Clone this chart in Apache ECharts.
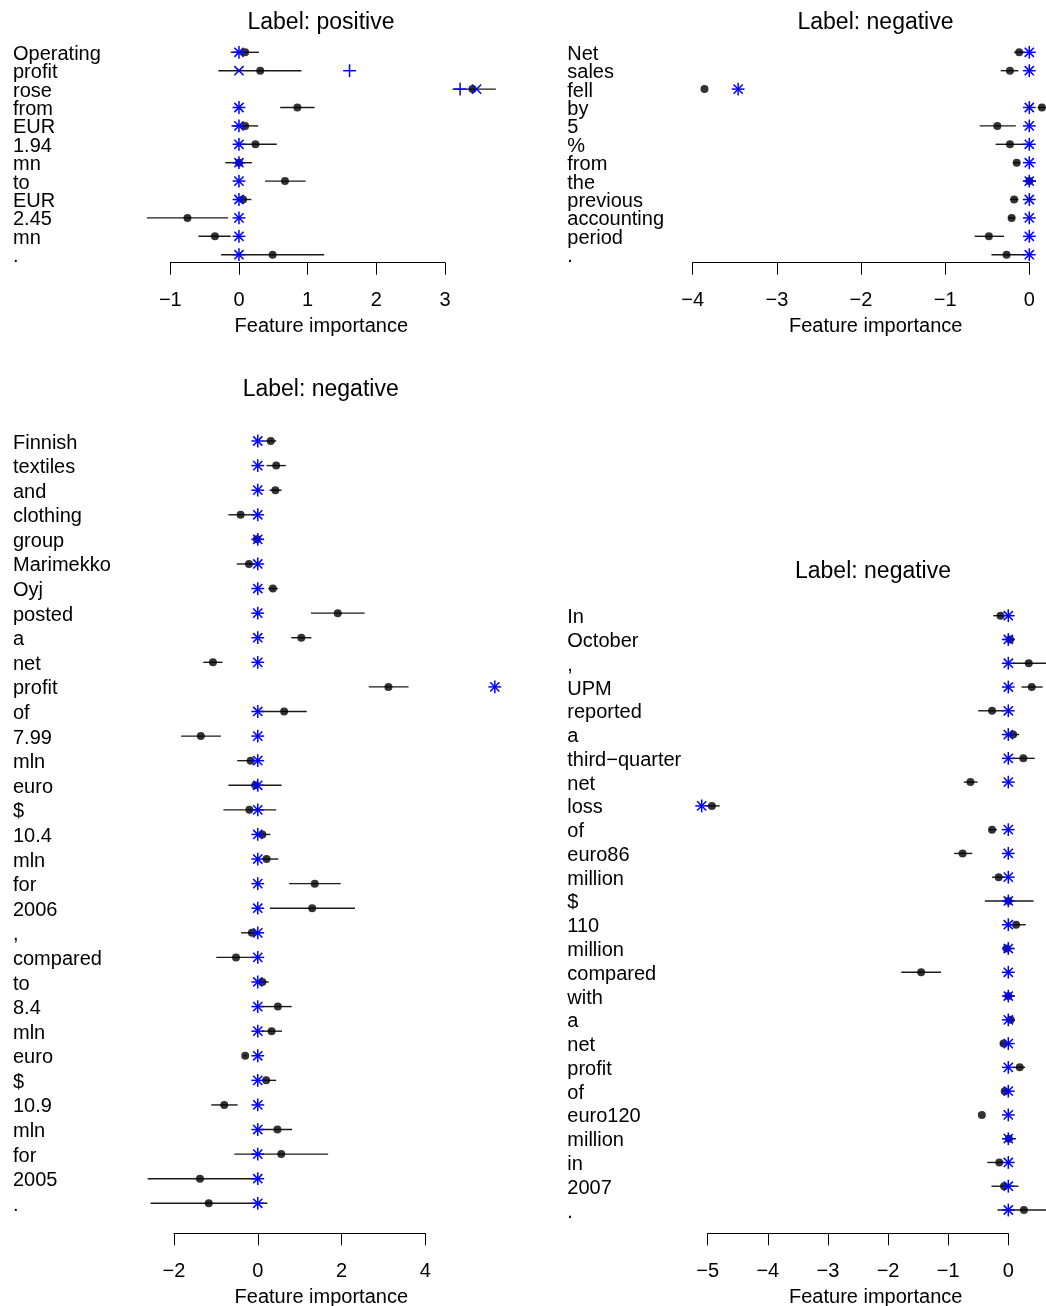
<!DOCTYPE html>
<html><head><meta charset="utf-8">
<script src="https://cdn.jsdelivr.net/npm/echarts@6/dist/echarts.min.js"></script>
<style>html,body{margin:0;padding:0;background:#fff}#c{width:1046px;height:1306px}</style>
</head><body><div id="c"></div>
<script>
// ---------- DATA ----------
const p1Words = ["Operating","profit","rose","from","EUR","1.94","mn","to","EUR","2.45","mn","."];
const p1Mean  = [0.09, 0.31, 3.40, 0.85, 0.09, 0.24, 0.00, 0.67, 0.06, -0.75, -0.35, 0.49];
const p1Lo    = [-0.12, -0.30, 3.11, 0.60, -0.11, -0.05, -0.20, 0.38, -0.06, -1.34, -0.59, -0.26];
const p1Hi    = [0.29, 0.91, 3.74, 1.10, 0.28, 0.55, 0.19, 0.97, 0.18, -0.16, -0.12, 1.24];
const p1Plus  = [0, 1.61, 3.22, 0, 0, 0, 0, 0, 0, 0, 0, 0];
const p1Cross = [0, 0, 3.46, 0, 0, 0, 0, 0, 0, 0, 0, 0];

const p2Words = ["Net","sales","fell","by","5","%","from","the","previous","accounting","period","."];
const p2Mean  = [-0.12, -0.23, -3.86, 0.15, -0.38, -0.23, -0.15, 0.00, -0.18, -0.21, -0.48, -0.27];
const p2Lo    = [-0.18, -0.34, -3.86, 0.10, -0.59, -0.40, -0.19, -0.07, -0.23, -0.25, -0.65, -0.45];
const p2Hi    = [-0.06, -0.13, -3.86, 0.20, -0.16, -0.03, -0.11, 0.08, -0.13, -0.17, -0.30, -0.05];
const p2Plus  = [0, 0, -3.46, 0, 0, 0, 0, 0, 0, 0, 0, 0];
const p2Cross = [0, 0, -3.46, 0, 0, 0, 0, 0, 0, 0, 0, 0];

const p3Words = ["Finnish","textiles","and","clothing","group","Marimekko","Oyj","posted","a","net","profit","of","7.99","mln","euro","$","10.4","mln","for","2006",",","compared","to","8.4","mln","euro","$","10.9","mln","for","2005","."];
const p3Mean  = [0.31, 0.44, 0.42, -0.41, -0.02, -0.21, 0.36, 1.91, 1.04, -1.07, 3.12, 0.63, -1.36, -0.17, -0.06, -0.20, 0.11, 0.21, 1.36, 1.30, -0.14, -0.52, 0.11, 0.48, 0.33, -0.30, 0.20, -0.80, 0.47, 0.56, -1.38, -1.17];
const p3Lo    = [0.14, 0.21, 0.28, -0.70, -0.14, -0.50, 0.25, 1.27, 0.80, -1.30, 2.65, 0.06, -1.83, -0.49, -0.70, -0.82, 0.02, 0.10, 0.75, 0.29, -0.40, -0.99, 0.02, 0.06, 0.10, -0.33, 0.10, -1.11, 0.06, -0.56, -2.63, -2.56];
const p3Hi    = [0.44, 0.67, 0.57, -0.06, 0.14, -0.06, 0.48, 2.55, 1.28, -0.84, 3.60, 1.17, -0.88, 0.02, 0.57, 0.44, 0.30, 0.49, 1.98, 2.32, 0.06, 0.02, 0.26, 0.81, 0.58, -0.27, 0.44, -0.48, 0.82, 1.68, -0.02, 0.23];
const p3Plus  = [0,0,0,0,0,0,0,0,0,0,5.66,0,0,0,0,0,0,0,0,0,0,0,0,0,0,0,0,0,0,0,0,0];
const p3Cross = [0,0,0,0,0,0,0,0,0,0,5.66,0,0,0,0,0,0,0,0,0,0,0,0,0,0,0,0,0,0,0,0,0];

const p4Words = ["In","October",",","UPM","reported","a","third\u2212quarter","net","loss","of","euro86","million","$","110","million","compared","with","a","net","profit","of","euro120","million","in","2007","."];
const p4Mean  = [-0.13, 0.03, 0.34, 0.39, -0.27, 0.08, 0.25, -0.63, -4.93, -0.27, -0.76, -0.16, 0.00, 0.13, -0.03, -1.45, 0.00, 0.04, -0.08, 0.19, -0.06, -0.44, 0.01, -0.15, -0.07, 0.26];
const p4Lo    = [-0.25, -0.08, 0.08, 0.22, -0.50, -0.06, 0.08, -0.74, -5.02, -0.32, -0.90, -0.27, -0.39, 0.00, -0.09, -1.78, -0.08, -0.03, -0.13, 0.08, -0.09, -0.44, -0.08, -0.35, -0.28, -0.18];
const p4Hi    = [-0.06, 0.11, 0.65, 0.57, -0.08, 0.18, 0.44, -0.51, -4.80, -0.19, -0.60, -0.06, 0.42, 0.29, 0.09, -1.12, 0.11, 0.11, 0.00, 0.28, 0.03, -0.44, 0.13, -0.08, 0.17, 0.65];
const p4Plus  = [0,0,0,0,0,0,0,0,-5.10,0,0,0,0,0,0,0,0,0,0,0,0,0,0,0,0,0];
const p4Cross = [0,0,0,0,0,0,0,0,-5.10,0,0,0,0,0,0,0,0,0,0,0,0,0,0,0,0,0];

const titles = ["Label: positive","Label: negative","Label: negative","Label: negative"];
const xName = "Feature importance";

// ---------- LAYOUT ----------
const FONT = "'Liberation Sans', Arial, Helvetica, sans-serif";
const panels = [
  {words:p1Words, mean:p1Mean, lo:p1Lo, hi:p1Hi, plus:p1Plus, cross:p1Cross,
   left:170.3, right:445, firstRow:52.3, lastRow:254.7, axisY:262.7, min:-1, max:3, interval:1,
   labelX:13, titleX:321, titleY:21, nameX:321.3, nameY:324},
  {words:p2Words, mean:p2Mean, lo:p2Lo, hi:p2Hi, plus:p2Plus, cross:p2Cross,
   left:692.7, right:1029.3, firstRow:52.3, lastRow:254.7, axisY:262.7, min:-4, max:0, interval:1,
   labelX:567.3, titleX:875.5, titleY:21, nameX:875.7, nameY:324},
  {words:p3Words, mean:p3Mean, lo:p3Lo, hi:p3Hi, plus:p3Plus, cross:p3Cross,
   left:174, right:425.3, firstRow:441, lastRow:1203.3, axisY:1233.3, min:-2, max:4, interval:2,
   labelX:13, titleX:320.7, titleY:387.3, nameX:321.3, nameY:1295},
  {words:p4Words, mean:p4Mean, lo:p4Lo, hi:p4Hi, plus:p4Plus, cross:p4Cross,
   left:707.7, right:1008.3, firstRow:615.7, lastRow:1210, axisY:1233.3, min:-5, max:0, interval:1,
   labelX:567.3, titleX:873, titleY:570, nameX:875.7, nameY:1295}
];

const grid = [], xAxis = [], yAxis = [], series = [], graphic = [];
const BLUE = '#0000ff';
const TEXT_SHIFT = 2;

panels.forEach((p, k) => {
  const n = p.words.length;
  const step = (p.lastRow - p.firstRow) / (n - 1);
  const top = p.firstRow - step / 2;
  const height = step * n;
  grid.push({left: p.left, top: top, width: p.right - p.left, height: height, containLabel: false});
  xAxis.push({
    type: 'value', gridIndex: k, min: p.min, max: p.max, interval: p.interval,
    position: 'bottom', offset: p.axisY - (top + height),
    axisLine: {show: true, onZero: false, lineStyle: {color: '#000', width: 1}},
    axisTick: {show: true, length: 12, lineStyle: {color: '#000', width: 1}},
    axisLabel: {fontSize: 20, color: '#000', margin: 28, fontFamily: FONT,
      formatter: v => String(v).replace('-', '\u2212')},
    splitLine: {show: false}
  });
  yAxis.push({
    type: 'category', gridIndex: k, inverse: true, data: p.words,
    axisLine: {show: false}, axisTick: {show: false}, splitLine: {show: false},
    axisLabel: {interval: 0, align: 'left', margin: p.left - p.labelX, fontSize: 20,
      color: '#000', fontFamily: FONT,
      formatter: v => '{w|' + v + '}',
      rich: {w: {fontSize: 20, color: '#000', fontFamily: FONT, padding: [2 * TEXT_SHIFT, 0, 0, 0]}}}
  });
  // error bars
  series.push({
    type: 'custom', xAxisIndex: k, yAxisIndex: k, clip: false, silent: true,
    encode: {x: [0, 2], y: 1},
    data: p.words.map((w, i) => [p.lo[i], i, p.hi[i]]),
    renderItem: (params, api) => {
      const a = api.coord([api.value(0), api.value(1)]);
      const b = api.coord([api.value(2), api.value(1)]);
      return {type: 'line', shape: {x1: a[0], y1: a[1], x2: b[0], y2: b[1]},
        style: {stroke: '#1a1a1a', lineWidth: 1.4}};
    }, z: 2
  });
  // mean dots
  series.push({
    type: 'scatter', xAxisIndex: k, yAxisIndex: k, clip: false, silent: true,
    symbol: 'circle', symbolSize: 8, itemStyle: {color: '#000'},
    data: p.words.map((w, i) => [p.mean[i], i]), z: 3
  });
  // plus markers
  series.push({
    type: 'custom', xAxisIndex: k, yAxisIndex: k, clip: false, silent: true,
    encode: {x: 0, y: 1},
    data: p.words.map((w, i) => [p.plus[i], i]),
    renderItem: (params, api) => {
      const c = api.coord([api.value(0), api.value(1)]);
      const h = 6.4;
      const st = {stroke: BLUE, lineWidth: 1.5};
      return {type: 'group', children: [
        {type: 'line', shape: {x1: c[0] - h, y1: c[1], x2: c[0] + h, y2: c[1]}, style: st},
        {type: 'line', shape: {x1: c[0], y1: c[1] - h, x2: c[0], y2: c[1] + h}, style: st}
      ]};
    }, z: 4
  });
  // cross markers
  series.push({
    type: 'custom', xAxisIndex: k, yAxisIndex: k, clip: false, silent: true,
    encode: {x: 0, y: 1},
    data: p.words.map((w, i) => [p.cross[i], i]),
    renderItem: (params, api) => {
      const c = api.coord([api.value(0), api.value(1)]);
      const h = 4.6;
      const st = {stroke: BLUE, lineWidth: 1.5};
      return {type: 'group', children: [
        {type: 'line', shape: {x1: c[0] - h, y1: c[1] - h, x2: c[0] + h, y2: c[1] + h}, style: st},
        {type: 'line', shape: {x1: c[0] - h, y1: c[1] + h, x2: c[0] + h, y2: c[1] - h}, style: st}
      ]};
    }, z: 4
  });
  graphic.push({type: 'text', x: p.titleX, y: p.titleY + TEXT_SHIFT, silent: true,
    style: {text: titles[k], fontSize: 23, fontFamily: FONT, fill: '#000',
      textAlign: 'center', textVerticalAlign: 'middle'}});
  graphic.push({type: 'text', x: p.nameX, y: p.nameY + TEXT_SHIFT, silent: true,
    style: {text: xName, fontSize: 20, fontFamily: FONT, fill: '#000',
      textAlign: 'center', textVerticalAlign: 'middle'}});
});

const chart = echarts.init(document.getElementById('c'), null, {renderer: 'canvas'});
chart.setOption({
  animation: false,
  backgroundColor: '#fff',
  grid, xAxis, yAxis, series, graphic
});
</script>
</body></html>
